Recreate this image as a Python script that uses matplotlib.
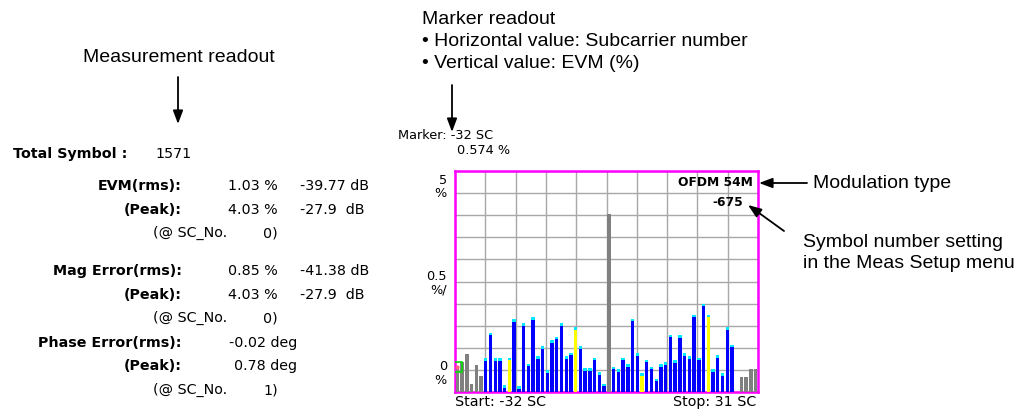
import numpy as np
import matplotlib.pyplot as plt

# figure size in pixels
W, H = 1019, 411

# EVM per subcarrier (%)
subcarriers = np.arange(-32, 32)
evm = [0.574, 0.68, 0.87, 0.17, 0.62, 0.36, 0.76, 1.34, 0.76, 0.76,
       0.16, 0.78, 1.65, 0.13, 1.55, 0.64, 1.70, 0.81, 1.04, 0.49,
       1.17, 1.25, 1.55, 0.81, 0.89, 1.46, 1.04, 0.54, 0.54, 0.78,
       0.45, 0.19, 4.03, 0.57, 0.51, 0.78, 0.63, 1.66, 0.88, 0.43,
       0.73, 0.57, 0.30, 0.63, 0.67, 1.30, 0.72, 1.28, 0.88, 0.81,
       1.75, 0.78, 2.00, 1.75, 0.51, 0.83, 0.43, 1.46, 1.07, 0.0,
       0.34, 0.34, 0.51, 0.51]
pilots = [-21, -7, 7, 21]
nulls = [-32, -31, -30, -29, -28, -27, 0, 27, 28, 29, 30, 31]

marker_sc = -32
marker_val = 0.574

# measurement readout
labels = ["EVM(rms):", "(Peak):", "Mag Error(rms):", "(Peak):",
          "Phase Error(rms):", "(Peak):"]
values = ["1.03 %", "4.03 %", "0.85 %", "4.03 %", "-0.02 deg", "0.78 deg"]
db_values = ["-39.77 dB", "-27.9  dB", "-41.38 dB", "-27.9  dB", "", ""]
sc_no = ["0", "0", "1"]

fig = plt.figure(figsize=(W / 100, H / 100), dpi=100)

# the trace window
L, R, T, B = 455, 758, 171, 392
ax = fig.add_axes([L / W, 1 - B / H, (R - L) / W, (B - T) / H])

# overlay axes in pixel coords for text + arrows, on top of everything
ov = fig.add_axes([0, 0, 1, 1])
ov.set_xlim(0, W)
ov.set_ylim(H, 0)
ov.axis("off")
ov.set_zorder(10)

colors = []
for sc in subcarriers:
    if sc in nulls:
        colors.append("#808080")
    elif sc in pilots:
        colors.append("#ffff00")
    else:
        colors.append("#0000ff")

bw = 0.72
ax.bar(subcarriers, evm, width=bw, color=colors, zorder=3)
# cyan caps on the data/pilot bars
cap = 0.06
evm_arr = np.array(evm)
mask = np.array([sc not in nulls for sc in subcarriers])
ax.bar(subcarriers[mask], cap, bottom=evm_arr[mask] - cap, width=bw,
       color="#00e8ff", zorder=4)

ax.plot(marker_sc, marker_val, "s", ms=7, mfc="none", mec="#00dd00",
        mew=1.2, zorder=5)
ax.plot(marker_sc, marker_val, ".", ms=4, color="#ff6080", zorder=5)

ax.set_xlim(-32.5, 31.5)
ax.set_ylim(0, 5)
ax.set_xticks(np.linspace(-32.5, 31.5, 11))
ax.set_yticks(np.arange(0, 5.01, 0.5))
ax.tick_params(length=0, labelbottom=False, labelleft=False)
ax.grid(True, color="#a8a8a8", lw=1.0, zorder=1)
for s in ax.spines.values():
    s.set_color("#ff00ff")
    s.set_linewidth(1.8)

inst = dict(family="DejaVu Sans", fontsize=10.3, color="black")
small = dict(family="DejaVu Sans", fontsize=9.3, color="black")
bold = dict(family="DejaVu Sans", fontsize=10.3, color="black",
            weight="bold")
tag = dict(family="DejaVu Sans", fontsize=8.8, color="black", weight="bold")
note = dict(family="Liberation Sans", fontsize=14, color="black")
arrow = dict(arrowstyle="-|>,head_length=0.8,head_width=0.3", color="black",
             lw=1.3, shrinkA=0, shrinkB=0)

# y scale labels
ov.text(447, 180, "5", ha="right", va="center", **small)
ov.text(447, 193, "%", ha="right", va="center", **small)
ov.text(447, 276, "0.5", ha="right", va="center", **small)
ov.text(447, 290, "%/", ha="right", va="center", **small)
ov.text(447, 366, "0", ha="right", va="center", **small)
ov.text(447, 380, "%", ha="right", va="center", **small)

ov.text(L, 402, "Start: -32 SC", ha="left", va="center", **inst)
ov.text(R - 2, 402, "Stop: 31 SC", ha="right", va="center", **inst)
ov.text(398, 135, "Marker: -32 SC", ha="left", va="center", **small)
ov.text(457, 150, f"{marker_val} %", ha="left", va="center", **small)
ov.text(753, 182, "OFDM 54M", ha="right", va="center", **tag)
ov.text(743, 202, "-675", ha="right", va="center", **tag)

# measurement readout block
ov.text(13, 154, "Total Symbol :", ha="left", va="center", **bold)
ov.text(155, 154, "1571", ha="left", va="center", **inst)
rows_y = [186, 210, 271, 295, 343, 366]
for lab, val, db, y in zip(labels, values, db_values, rows_y):
    ov.text(182, y, lab, ha="right", va="center", **bold)
    ov.text(278 if "%" in val else 297, y, val, ha="right", va="center",
            **inst)
    if db:
        ov.text(300, y, db, ha="left", va="center", **inst)
for n, y in zip(sc_no, [233, 318, 390]):
    ov.text(153, y, "(@ SC_No.", ha="left", va="center", **inst)
    ov.text(278, y, f"{n})", ha="right", va="center", **inst)

# callouts
ov.text(83, 57, "Measurement readout", ha="left", va="center", **note)
ov.annotate("", xy=(178, 124), xytext=(178, 77), arrowprops=arrow)
ov.text(422, 20, "Marker readout", ha="left", va="center", **note)
ov.text(422, 42, "\u2022 Horizontal value: Subcarrier number", ha="left",
        va="center", **note)
ov.text(422, 64, "\u2022 Vertical value: EVM (%)", ha="left", va="center",
        **note)
ov.annotate("", xy=(452, 132), xytext=(452, 85), arrowprops=arrow)
ov.text(813, 183, "Modulation type", ha="left", va="center", **note)
ov.annotate("", xy=(759, 183), xytext=(807, 183), arrowprops=arrow)
ov.text(803, 242, "Symbol number setting", ha="left", va="center", **note)
ov.text(803, 263, "in the Meas Setup menu", ha="left", va="center", **note)
ov.annotate("", xy=(748, 205), xytext=(784, 231), arrowprops=arrow)

fig.savefig("out.png", dpi=100)
